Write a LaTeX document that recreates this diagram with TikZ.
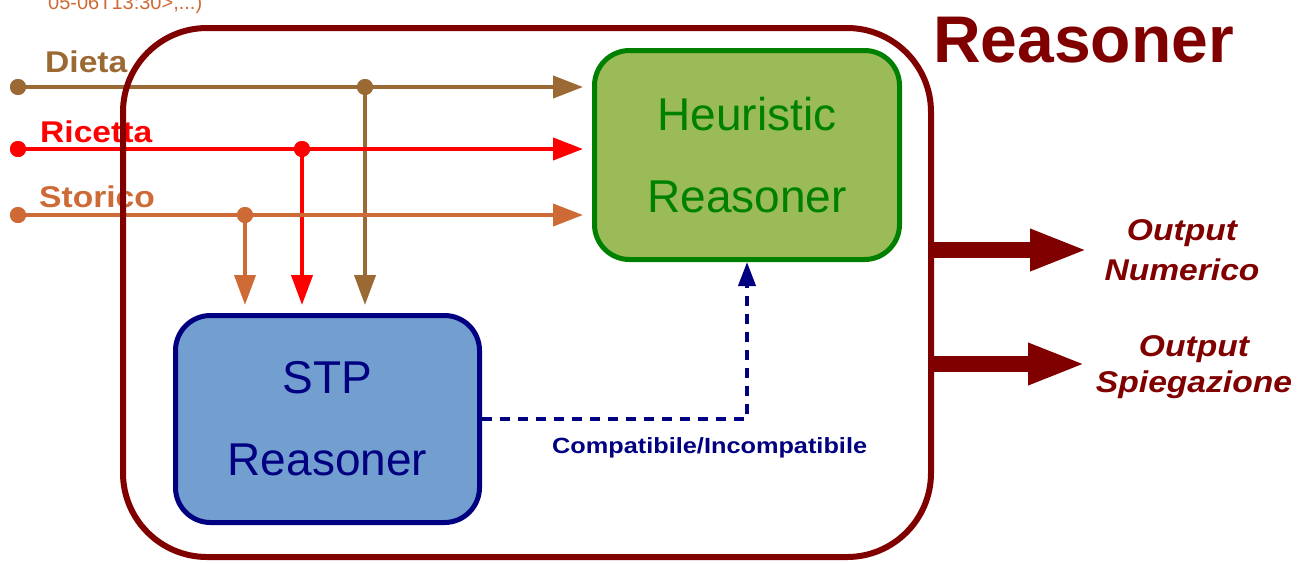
\documentclass[tikz,border=0pt]{standalone}
\usepackage{fontspec}
\setmainfont{Liberation Sans}
\newfontfamily\widesans[FakeStretch=1.12]{Liberation Sans}
\newfontfamily\widersans[FakeStretch=1.15]{Liberation Sans}
\usetikzlibrary{arrows.meta}
\definecolor{dieta}{RGB}{155,106,52}
\definecolor{ricetta}{RGB}{255,0,0}
\definecolor{storico}{RGB}{206,106,54}
\definecolor{darkred}{RGB}{128,0,0}
\definecolor{hfill}{RGB}{155,187,89}
\definecolor{hdraw}{RGB}{0,128,0}
\definecolor{sfill}{RGB}{114,159,207}
\definecolor{navyblue}{RGB}{0,0,128}
\begin{document}
\begin{tikzpicture}[x=1pt,y=-1pt,
 box/.style={rounded corners=35pt, line width=5pt, inner sep=0pt, align=center, font=\fontsize{46}{82}\selectfont},
 dot/.style={circle, fill=#1, minimum size=16pt, inner sep=0pt},
 feed/.style={line width=4pt, draw=#1, -{Triangle[length=30pt,width=22pt]}, shorten >=9pt},
 drop/.style={line width=4pt, draw=#1, -{Triangle[length=30pt,width=21pt]}, shorten >=8pt},
 inlabel/.style={anchor=base west, inner sep=0pt, text=#1, font=\widesans\bfseries\fontsize{30}{36}\selectfont},
 outarrow/.style={line width=16pt, draw=darkred, -{Triangle[length=58pt,width=38pt]}, shorten <=-3pt},
 outlabel/.style={align=center, inner sep=0pt, text=darkred, font=\widesans\bfseries\itshape\fontsize{30}{#1}\selectfont},
]
\useasboundingbox (0,0) rectangle (1308,563);

% top clipped text
\node[anchor=base west, inner sep=0pt, text=storico, font=\fontsize{20}{24}\selectfont] (top) at (48,9) {05-06T13:30>,...)};

% title
\node[anchor=base west, inner sep=0pt, text=darkred, font=\bfseries\fontsize{66}{70}\selectfont] (T) at (933,62) {Reasoner};

% inner boxes
\node[box, fill=hfill, draw=hdraw, text=hdraw, minimum width=305pt, minimum height=209pt] (H) at (747,155) {Heuristic\\Reasoner};
\node[box, fill=sfill, draw=navyblue, text=navyblue, minimum width=304pt, minimum height=207pt] (S) at (327.5,419) {STP\\Reasoner};

% input labels
\node[inlabel=dieta] (ld) at (45,72) {Dieta};
\node[inlabel=ricetta] (lr) at (40,142) {Ricetta};
\node[inlabel=storico] (ls) at (39,207) {Storico};

% dots
\node[dot=dieta] (d0) at (18,87) {};
\node[dot=dieta] (dj) at (365,87) {};
\node[dot=ricetta] (r0) at (18,149) {};
\node[dot=ricetta] (rj) at (302,149) {};
\node[dot=storico] (s0) at (18,215) {};
\node[dot=storico] (sj) at (245,215) {};

% vertical feeds to STP
\draw[drop=dieta] (dj.center) -- (dj.center |- S.north);
\draw[drop=ricetta] (rj.center) -- (rj.center |- S.north);
\draw[drop=storico] (sj.center) -- (sj.center |- S.north);

% horizontal feeds to Heuristic
\draw[feed=dieta] (d0.center) -- (d0.center -| H.west);
\draw[feed=ricetta] (r0.center) -- (r0.center -| H.west);
\draw[feed=storico] (s0.center) -- (s0.center -| H.west);

% redraw dots on top
\node[dot=dieta] at (d0) {};
\node[dot=dieta] at (dj) {};
\node[dot=ricetta] at (r0) {};
\node[dot=ricetta] at (rj) {};
\node[dot=storico] at (s0) {};
\node[dot=storico] at (sj) {};

% dashed connector
\draw[navyblue, line width=4pt, dash pattern=on 10pt off 8pt, -{Triangle[length=24pt,width=17pt]}] (S.east) -| (H.south);
\node[anchor=base west, inner sep=0pt, text=navyblue, font=\widersans\bfseries\fontsize{22}{26}\selectfont] (c) at (552,453) {Compatibile/Incompatibile};

% outer box
\node[draw=darkred, line width=6pt, rounded corners=84pt, minimum width=808pt, minimum height=529pt, inner sep=0pt] (R) at (527,292.5) {};

% outputs
\node[outlabel=40] (o1) at (1182,250) {Output\\Numerico};
\node[outlabel=36] (o2) at (1194,367) {Output\\Spiegazione};
\coordinate (t1) at (1088,250);
\coordinate (t2) at (1086,364);
\draw[outarrow] (R.east |- t1) -- (t1);
\draw[outarrow] (R.east |- t2) -- (t2);
\end{tikzpicture}
\end{document}
